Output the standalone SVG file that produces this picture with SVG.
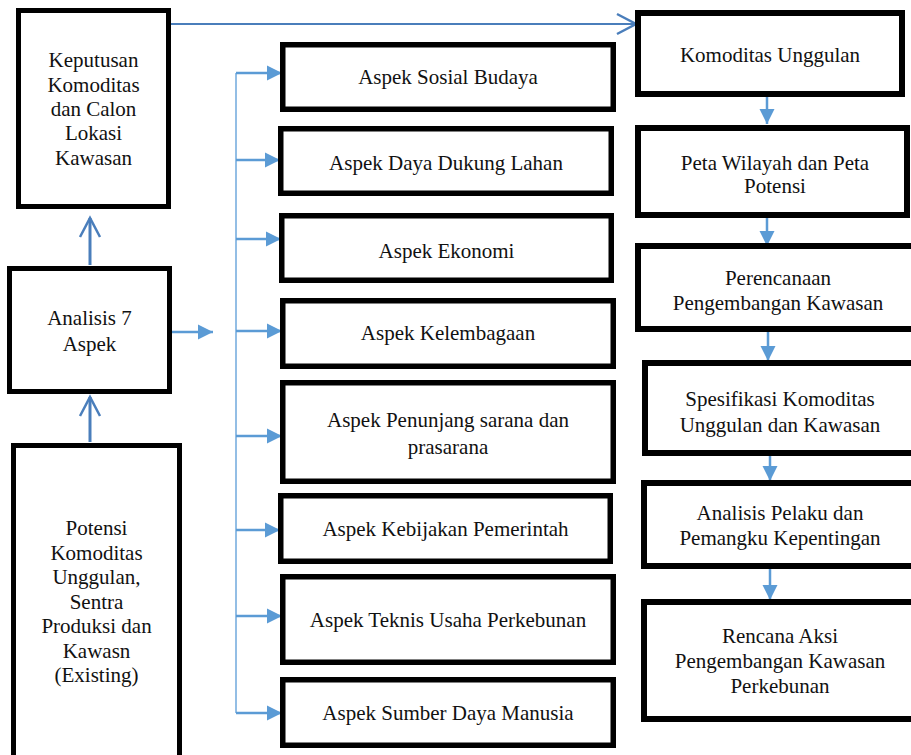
<svg xmlns="http://www.w3.org/2000/svg" width="911" height="755" viewBox="0 0 911 755">
  <style>
    .box { fill: #ffffff; stroke: #000000; }
    .lbox { stroke-width: 5; }
    .mbox { stroke-width: 5.5; }
    .rbox { stroke-width: 6; }
    text { font-family: 'Liberation Serif', Tinos, 'Times New Roman', 'DejaVu Serif', serif; font-size: 21px; fill: #111111; text-anchor: middle; }
    .open { fill: none; stroke: #4a7ebb; }
    .solid { fill: none; stroke: #5b9bd5; stroke-width: 2.5; }
    .bus { fill: none; stroke: #6fa8dc; stroke-width: 1.5; }
  </style>
  <defs>
    <marker id="chevron" markerUnits="userSpaceOnUse" markerWidth="24" markerHeight="24" refX="19" refY="10" orient="auto" overflow="visible">
      <path d="M0,0 L19,10 L0,20" fill="none" stroke="#4a7ebb" stroke-width="2.5"/>
    </marker>
    <marker id="tri" markerUnits="userSpaceOnUse" markerWidth="16" markerHeight="16" refX="15" refY="7.5" orient="auto" overflow="visible">
      <path d="M0,0 L15,7.5 L0,15 Z" fill="#5b9bd5"/>
    </marker>
  </defs>

  <!-- connectors -->
  <g id="connectors">
    <path class="open" stroke-width="2.2" d="M171,24 H636" marker-end="url(#chevron)"/>
    <path class="open" stroke-width="3" d="M90,265 V218" marker-end="url(#chevron)"/>
    <path class="open" stroke-width="3" d="M90,442 V397" marker-end="url(#chevron)"/>
    <path class="solid" d="M172,332 H213" marker-end="url(#tri)"/>
    <path class="bus" d="M236,73 V713"/>
    <path class="solid" d="M236,73 H282" marker-end="url(#tri)"/>
    <path class="solid" d="M236,160 H280" marker-end="url(#tri)"/>
    <path class="solid" d="M236,239 H281" marker-end="url(#tri)"/>
    <path class="solid" d="M236,331 H282" marker-end="url(#tri)"/>
    <path class="solid" d="M236,436 H282" marker-end="url(#tri)"/>
    <path class="solid" d="M236,530 H280" marker-end="url(#tri)"/>
    <path class="solid" d="M236,616 H282" marker-end="url(#tri)"/>
    <path class="solid" d="M236,713 H282" marker-end="url(#tri)"/>
    <path class="solid" d="M767,97 V124" marker-end="url(#tri)"/>
    <path class="solid" d="M767,218 V246" marker-end="url(#tri)"/>
    <path class="solid" d="M768,332 V361" marker-end="url(#tri)"/>
    <path class="solid" d="M770,456 V481" marker-end="url(#tri)"/>
    <path class="solid" d="M770,569 V600" marker-end="url(#tri)"/>
  </g>

  <!-- left column -->
  <g id="keputusan">
    <rect class="box lbox" x="18.5" y="10.5" width="150" height="196"/>
    <text x="93.5" y="67">Keputusan</text>
    <text x="93.5" y="92">Komoditas</text>
    <text x="93.5" y="116">dan Calon</text>
    <text x="93.5" y="140">Lokasi</text>
    <text x="93.5" y="165">Kawasan</text>
  </g>
  <g id="analisis">
    <rect class="box lbox" x="9.5" y="268.5" width="160" height="123"/>
    <text x="89.5" y="325">Analisis 7</text>
    <text x="89.5" y="351">Aspek</text>
  </g>
  <g id="potensi">
    <rect class="box lbox" x="13.5" y="445.5" width="166" height="330"/>
    <text x="96.5" y="535">Potensi</text>
    <text x="96.5" y="559.5">Komoditas</text>
    <text x="96.5" y="584">Unggulan,</text>
    <text x="96.5" y="608.5">Sentra</text>
    <text x="96.5" y="633">Produksi dan</text>
    <text x="96.5" y="657.5">Kawasn</text>
    <text x="96.5" y="682">(Existing)</text>
  </g>

  <!-- aspect column -->
  <g id="aspek-sosial">
    <rect class="box mbox" x="282.75" y="44.75" width="330.5" height="64.5"/>
    <text x="448" y="84">Aspek Sosial Budaya</text>
  </g>
  <g id="aspek-lahan">
    <rect class="box mbox" x="280.75" y="128.75" width="330.5" height="64.5"/>
    <text x="446" y="170">Aspek Daya Dukung Lahan</text>
  </g>
  <g id="aspek-ekonomi">
    <rect class="box mbox" x="281.75" y="215.75" width="329.5" height="64.5"/>
    <text x="446.5" y="258">Aspek Ekonomi</text>
  </g>
  <g id="aspek-kelembagaan">
    <rect class="box mbox" x="282.75" y="300.75" width="330.5" height="65.5"/>
    <text x="448" y="340">Aspek Kelembagaan</text>
  </g>
  <g id="aspek-penunjang">
    <rect class="box mbox" x="282.75" y="382.75" width="330.5" height="98.5"/>
    <text x="448" y="427">Aspek Penunjang sarana dan</text>
    <text x="448" y="454">prasarana</text>
  </g>
  <g id="aspek-kebijakan">
    <rect class="box mbox" x="280.75" y="495.75" width="329.5" height="65.5"/>
    <text x="445.5" y="536">Aspek Kebijakan Pemerintah</text>
  </g>
  <g id="aspek-teknis">
    <rect class="box mbox" x="282.75" y="576.75" width="330.5" height="85.5"/>
    <text x="448" y="627">Aspek Teknis Usaha Perkebunan</text>
  </g>
  <g id="aspek-sdm">
    <rect class="box mbox" x="282.75" y="679.75" width="330.5" height="65.5"/>
    <text x="448" y="720">Aspek Sumber Daya Manusia</text>
  </g>

  <!-- planning column -->
  <g id="komoditas-unggulan">
    <rect class="box rbox" x="638" y="13" width="264" height="81"/>
    <text x="770" y="62">Komoditas Unggulan</text>
  </g>
  <g id="peta-wilayah">
    <rect class="box rbox" x="638" y="128" width="269" height="87"/>
    <text x="775" y="170">Peta Wilayah dan Peta</text>
    <text x="775" y="193">Potensi</text>
  </g>
  <g id="perencanaan">
    <rect class="box rbox" x="638" y="246" width="282" height="83"/>
    <text x="778" y="285">Perencanaan</text>
    <text x="778" y="310">Pengembangan Kawasan</text>
  </g>
  <g id="spesifikasi">
    <rect class="box rbox" x="645" y="363" width="275" height="90"/>
    <text x="780" y="406">Spesifikasi Komoditas</text>
    <text x="780" y="432">Unggulan dan Kawasan</text>
  </g>
  <g id="analisis-pelaku">
    <rect class="box rbox" x="644" y="483" width="276" height="83"/>
    <text x="780" y="520">Analisis Pelaku dan</text>
    <text x="780" y="545">Pemangku Kepentingan</text>
  </g>
  <g id="rencana-aksi">
    <rect class="box rbox" x="644" y="602" width="276" height="117"/>
    <text x="780" y="643">Rencana Aksi</text>
    <text x="780" y="668">Pengembangan Kawasan</text>
    <text x="780" y="693">Perkebunan</text>
  </g>
</svg>
